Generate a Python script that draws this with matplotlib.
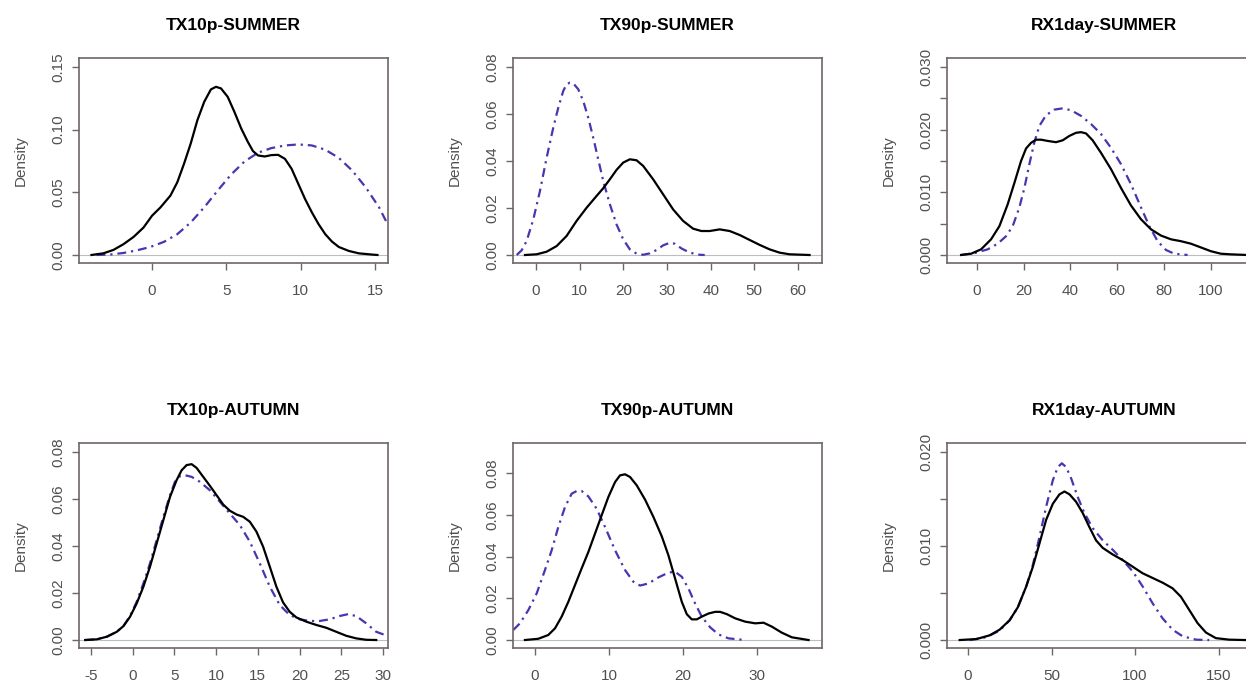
import matplotlib
matplotlib.use('Agg')
import matplotlib.pyplot as plt

plt.rcParams['font.family'] = ['Liberation Sans', 'DejaVu Sans']

tx10p_sum_obs_x = [-4.07, -3.28, -2.60, -1.92, -1.24, -0.57, 0.0, 0.57, 1.24, 1.70, 2.15, 2.60, 3.05,
                   3.51, 3.96, 4.30, 4.64, 5.09, 5.54, 6.00, 6.45, 6.79, 7.13, 7.58, 8.03, 8.48,
                   8.94, 9.39, 9.84, 10.29, 10.75, 11.20, 11.65, 12.10, 12.56, 13.24, 13.91, 14.82,
                   15.16]
tx10p_sum_obs_y = [0.0, 0.0013, 0.0040, 0.0086, 0.0144, 0.0219, 0.0313, 0.0380, 0.0474, 0.0580,
                   0.0727, 0.0888, 0.1075, 0.1222, 0.1321, 0.1342, 0.1329, 0.1262, 0.1142, 0.1009,
                   0.0901, 0.0829, 0.0794, 0.0786, 0.0797, 0.0799, 0.0767, 0.0687, 0.0567, 0.0447,
                   0.0340, 0.0246, 0.0166, 0.0107, 0.0064, 0.0032, 0.0013, 0.0003, 0.0]
tx10p_sum_mod_x = [-3.73, -2.83, -1.92, -1.02, -0.11, 0.79, 1.70, 2.60, 3.51, 4.41, 5.32, 6.22, 7.13,
                   8.03, 8.94, 9.84, 10.75, 11.65, 12.56, 13.46, 14.37, 15.27, 15.84]
tx10p_sum_mod_y = [0.0, 0.0003, 0.0016, 0.0037, 0.0064, 0.0104, 0.0166, 0.0259, 0.0380, 0.0513,
                   0.0642, 0.0746, 0.0816, 0.0853, 0.0874, 0.0882, 0.0874, 0.0840, 0.0775, 0.0674,
                   0.0540, 0.0380, 0.0246]

tx90p_sum_obs_x = [-2.52, 0.15, 2.44, 4.73, 7.01, 9.30, 11.59, 13.87, 15.40, 16.92, 18.45, 19.97,
                   21.49, 23.02, 24.54, 26.83, 29.12, 31.40, 33.69, 35.98, 37.88, 39.79, 42.07,
                   44.36, 46.65, 48.93, 51.22, 53.51, 55.79, 58.08, 62.65]
tx90p_sum_obs_y = [0.0, 0.0003, 0.0014, 0.0038, 0.0081, 0.0145, 0.0201, 0.0251, 0.0284, 0.0322,
                   0.0362, 0.0393, 0.0407, 0.0403, 0.0379, 0.0322, 0.0258, 0.0194, 0.0145, 0.0112,
                   0.0102, 0.0102, 0.0109, 0.0102, 0.0085, 0.0064, 0.0043, 0.0024, 0.0010, 0.0003,
                   0.0]
tx90p_sum_mod_x = [-4.42, -3.28, -2.13, -0.61, 0.91, 2.44, 3.96, 5.11, 6.25, 7.01, 7.77, 8.54, 9.68,
                   10.82, 11.97, 13.11, 14.25, 15.40, 16.92, 18.45, 19.97, 21.49, 23.02, 24.54,
                   26.07, 27.59, 29.12, 30.64, 31.78, 33.31, 35.21, 37.50, 38.64]
tx90p_sum_mod_y = [0.0, 0.0020, 0.0060, 0.0152, 0.0272, 0.0414, 0.0542, 0.0627, 0.0698, 0.0726,
                   0.0733, 0.0730, 0.0705, 0.0655, 0.0584, 0.0499, 0.0407, 0.0315, 0.0216, 0.0130,
                   0.0067, 0.0024, 0.0006, 0.0001, 0.0007, 0.0021, 0.0041, 0.0052, 0.0048, 0.0028,
                   0.0010, 0.0001, 0.0]

rx1day_sum_obs_x = [-6.85, -2.57, 1.71, 5.99, 9.56, 13.12, 15.98, 18.83, 20.97, 23.11, 25.25, 27.39,
                    30.24, 33.81, 36.66, 39.51, 42.37, 44.51, 46.65, 49.50, 53.07, 57.35, 61.63,
                    65.91, 70.19, 74.46, 78.74, 83.02, 87.30, 91.58, 95.86, 100.14, 104.42, 108.70,
                    115.55, 122.0]
rx1day_sum_obs_y = [0.0, 0.0002, 0.0009, 0.0025, 0.0046, 0.0081, 0.0115, 0.0150, 0.0170, 0.0179,
                    0.0184, 0.0184, 0.0182, 0.0180, 0.0183, 0.0190, 0.0195, 0.0196, 0.0194, 0.0183,
                    0.0163, 0.0137, 0.0107, 0.0079, 0.0057, 0.0041, 0.0031, 0.0025, 0.0022, 0.0018,
                    0.0012, 0.0006, 0.0002, 0.0001, 0.0, 0.0]
rx1day_sum_mod_x = [-6.85, -1.14, 4.56, 8.84, 12.41, 15.26, 18.12, 20.26, 22.40, 24.54, 26.68, 29.53,
                    33.10, 36.66, 40.23, 44.51, 48.79, 53.07, 57.35, 61.63, 65.91, 70.19, 73.75,
                    77.32, 80.88, 84.45, 90.16]
rx1day_sum_mod_y = [0.0, 0.0003, 0.0009, 0.0018, 0.0030, 0.0046, 0.0076, 0.0107, 0.0145, 0.0180,
                    0.0206, 0.0223, 0.0232, 0.0234, 0.0231, 0.0222, 0.0209, 0.0193, 0.0171, 0.0145,
                    0.0113, 0.0076, 0.0046, 0.0022, 0.0008, 0.0002, 0.0]

tx10p_aut_obs_x = [-5.70, -4.31, -3.11, -1.91, -1.12, -0.32, 0.48, 1.28, 2.07, 2.87, 3.67, 4.47, 5.26,
                   5.86, 6.46, 7.06, 7.66, 8.45, 9.25, 10.05, 10.85, 11.64, 12.44, 13.24, 14.04,
                   14.83, 15.63, 16.43, 17.22, 18.02, 18.82, 19.62, 20.81, 22.01, 23.21, 24.40,
                   25.60, 26.79, 27.99, 29.19]
tx10p_aut_obs_y = [0.0, 0.0003, 0.0014, 0.0035, 0.0059, 0.0099, 0.0156, 0.0227, 0.0312, 0.0411,
                   0.0510, 0.0609, 0.0680, 0.0722, 0.0744, 0.0748, 0.0732, 0.0694, 0.0656, 0.0616,
                   0.0576, 0.0550, 0.0534, 0.0524, 0.0503, 0.0461, 0.0397, 0.0312, 0.0227, 0.0160,
                   0.0120, 0.0096, 0.0078, 0.0064, 0.0052, 0.0035, 0.0018, 0.0007, 0.0001, 0.0]
tx10p_aut_mod_x = [-5.70, -4.31, -3.11, -1.91, -1.12, -0.32, 0.48, 1.28, 2.07, 2.87, 3.67, 4.47, 5.06,
                   5.66, 6.26, 7.06, 8.05, 9.25, 10.45, 11.64, 12.84, 14.04, 15.23, 16.43, 17.62,
                   18.82, 20.02, 21.21, 22.41, 23.60, 24.80, 25.80, 26.79, 27.99, 29.19, 30.58]
tx10p_aut_mod_y = [0.0, 0.0003, 0.0014, 0.0035, 0.0059, 0.0102, 0.0163, 0.0241, 0.0326, 0.0425,
                   0.0524, 0.0616, 0.0673, 0.0697, 0.0701, 0.0694, 0.0673, 0.0637, 0.0588, 0.0538,
                   0.0489, 0.0418, 0.0326, 0.0227, 0.0149, 0.0106, 0.0088, 0.0081, 0.0081, 0.0088,
                   0.0102, 0.0110, 0.0102, 0.0071, 0.0035, 0.0017]

tx90p_aut_obs_x = [-1.35, 0.45, 1.80, 2.71, 3.61, 4.51, 5.41, 6.31, 7.22, 8.12, 9.02, 9.92, 10.83,
                   11.50, 12.18, 12.86, 13.76, 14.88, 16.01, 17.14, 18.04, 18.94, 19.85, 20.52,
                   21.20, 21.88, 22.55, 23.46, 24.36, 25.03, 25.94, 27.06, 28.42, 29.77, 30.90,
                   32.03, 33.38, 34.73, 36.99]
tx90p_aut_obs_y = [0.0, 0.0006, 0.0024, 0.0056, 0.0112, 0.0183, 0.0263, 0.0343, 0.0422, 0.0510,
                   0.0598, 0.0685, 0.0757, 0.0789, 0.0794, 0.0781, 0.0741, 0.0673, 0.0590, 0.0497,
                   0.0406, 0.0295, 0.0183, 0.0124, 0.0099, 0.0099, 0.0112, 0.0127, 0.0135, 0.0135,
                   0.0124, 0.0104, 0.0088, 0.0080, 0.0083, 0.0064, 0.0035, 0.0013, 0.0]
tx90p_aut_mod_x = [-2.93, -2.03, -0.90, 0.23, 1.35, 2.26, 3.16, 4.06, 4.96, 5.64, 6.31, 7.22, 8.34,
                   9.47, 10.83, 12.18, 13.31, 14.21, 15.34, 16.69, 18.04, 18.94, 19.85, 20.75,
                   21.65, 22.55, 23.68, 24.81, 26.16, 28.42]
tx90p_aut_mod_y = [0.0048, 0.0080, 0.0143, 0.0223, 0.0335, 0.0430, 0.0542, 0.0637, 0.0701, 0.0714,
                   0.0714, 0.0688, 0.0629, 0.0542, 0.0430, 0.0335, 0.0279, 0.0261, 0.0271, 0.0300,
                   0.0323, 0.0327, 0.0303, 0.0247, 0.0175, 0.0112, 0.0061, 0.0027, 0.0008, 0.0]

rx1day_aut_obs_x = [-4.98, 4.98, 12.95, 18.92, 24.90, 29.88, 34.86, 38.84, 42.83, 46.81, 50.80,
                    54.78, 57.77, 60.76, 64.74, 68.73, 72.71, 76.69, 80.68, 86.65, 92.63, 98.61,
                    104.58, 110.56, 116.53, 122.51, 127.49, 132.47, 137.45, 142.43, 148.41, 156.37,
                    165.54, 176.0]
rx1day_aut_obs_y = [0.0, 0.0001, 0.0005, 0.0011, 0.0021, 0.0035, 0.0057, 0.0078, 0.0103, 0.0128,
                    0.0145, 0.0155, 0.0158, 0.0155, 0.0147, 0.0135, 0.0120, 0.0106, 0.0098, 0.0091,
                    0.0085, 0.0078, 0.0071, 0.0066, 0.0061, 0.0055, 0.0046, 0.0032, 0.0018, 0.0008,
                    0.0002, 0.00004, 0.0, 0.0]
rx1day_aut_mod_x = [1.0, 10.96, 18.92, 24.90, 29.88, 34.86, 38.84, 42.83, 46.81, 50.80, 53.78, 56.18,
                    58.76, 61.75, 65.74, 69.72, 74.70, 80.68, 86.65, 92.63, 98.61, 104.58, 110.56,
                    116.53, 122.51, 128.49, 136.45, 144.42]
rx1day_aut_mod_y = [0.0, 0.0003, 0.0010, 0.0021, 0.0035, 0.0057, 0.0080, 0.0110, 0.0142, 0.0170,
                    0.0184, 0.0188, 0.0184, 0.0172, 0.0152, 0.0135, 0.0119, 0.0106, 0.0096, 0.0085,
                    0.0073, 0.0057, 0.0039, 0.0023, 0.0011, 0.0004, 0.00004, 0.0]

titulos = ['TX10p-SUMMER', 'TX90p-SUMMER', 'RX1day-SUMMER',
           'TX10p-AUTUMN', 'TX90p-AUTUMN', 'RX1day-AUTUMN']

# Configuracion de cada panel: posicion, limites y ticks
paneles = [
    dict(pos=[0.0634, 0.6194, 0.248, 0.2967], xlim=(-4.91, 15.87), ylim=(-0.0064, 0.1572),
         xt=[0, 5, 10, 15], yt=[0, 0.05, 0.10, 0.15], yl=['0.00', '0.05', '0.10', '0.15'],
         obs=(tx10p_sum_obs_x, tx10p_sum_obs_y), mod=(tx10p_sum_mod_x, tx10p_sum_mod_y)),
    dict(pos=[0.4117, 0.6194, 0.248, 0.2967], xlim=(-5.27, 65.5), ylim=(-0.0034, 0.0838),
         xt=[0, 10, 20, 30, 40, 50, 60], yt=[0, 0.02, 0.04, 0.06, 0.08],
         yl=['0.00', '0.02', '0.04', '0.06', '0.08'],
         obs=(tx90p_sum_obs_x, tx90p_sum_obs_y), mod=(tx90p_sum_mod_x, tx90p_sum_mod_y)),
    dict(pos=[0.760, 0.6194, 0.2528, 0.2967], xlim=(-12.9, 122), ylim=(-0.00128, 0.03144),
         xt=[0, 20, 40, 60, 80, 100], yt=[0, 0.005, 0.010, 0.015, 0.020, 0.025, 0.030],
         yl=['0.000', '', '0.010', '', '0.020', '', '0.030'],
         obs=(rx1day_sum_obs_x, rx1day_sum_obs_y), mod=(rx1day_sum_mod_x, rx1day_sum_mod_y)),
    dict(pos=[0.0634, 0.0622, 0.248, 0.2967], xlim=(-6.44, 30.6), ylim=(-0.0034, 0.0838),
         xt=[-5, 0, 5, 10, 15, 20, 25, 30], yt=[0, 0.02, 0.04, 0.06, 0.08],
         yl=['0.00', '0.02', '0.04', '0.06', '0.08'],
         obs=(tx10p_aut_obs_x, tx10p_aut_obs_y), mod=(tx10p_aut_mod_x, tx10p_aut_mod_y)),
    dict(pos=[0.4117, 0.0622, 0.248, 0.2967], xlim=(-2.97, 38.8), ylim=(-0.00383, 0.0944),
         xt=[0, 10, 20, 30], yt=[0, 0.02, 0.04, 0.06, 0.08],
         yl=['0.00', '0.02', '0.04', '0.06', '0.08'],
         obs=(tx90p_aut_obs_x, tx90p_aut_obs_y), mod=(tx90p_aut_mod_x, tx90p_aut_mod_y)),
    dict(pos=[0.760, 0.0622, 0.2528, 0.2967], xlim=(-12.6, 176), ylim=(-0.00085, 0.02096),
         xt=[0, 50, 100, 150], yt=[0, 0.005, 0.010, 0.015, 0.020],
         yl=['0.000', '', '0.010', '', '0.020'],
         obs=(rx1day_aut_obs_x, rx1day_aut_obs_y), mod=(rx1day_aut_mod_x, rx1day_aut_mod_y)),
]

color_borde = '#6f6666'
color_texto = '#505050'
color_azul = '#4b34b0'

fig = plt.figure(figsize=(12.46, 6.91), dpi=100)

for titulo, p in zip(titulos, paneles):
    ax = fig.add_axes(p['pos'])
    ax.axhline(0, color='#bdbdbd', lw=0.8, zorder=1)
    ax.plot(p['obs'][0], p['obs'][1], color='black', lw=1.6, zorder=3,
            solid_joinstyle='round')
    ax.plot(p['mod'][0], p['mod'][1], color=color_azul, lw=1.6,
            linestyle=(0, (4, 2.2, 1, 2.2)), zorder=2)
    ax.set_xlim(p['xlim'])
    ax.set_ylim(p['ylim'])
    ax.set_xticks(p['xt'])
    ax.set_xticklabels([str(v) for v in p['xt']])
    ax.set_yticks(p['yt'])
    ax.set_yticklabels(p['yl'], rotation=90, va='center')
    ax.tick_params(colors=color_borde, labelcolor=color_texto, labelsize=11,
                   length=5, width=1)
    ax.tick_params(axis='x', pad=10)
    ax.tick_params(axis='y', pad=5)
    for s in ax.spines.values():
        s.set_color(color_borde)
        s.set_linewidth(1.2)
    ax.set_ylabel('Density', fontsize=11, color=color_texto, labelpad=17)
    ax.set_title(titulo, fontsize=12.5, fontweight='bold', pad=20)

plt.savefig('out.png', dpi=100)
plt.close()
